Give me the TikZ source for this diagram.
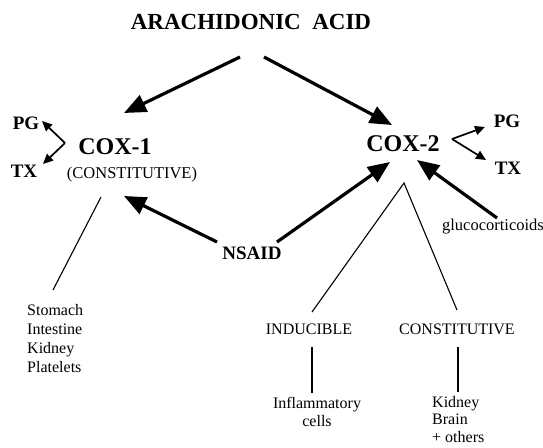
\documentclass[tikz,border=0pt]{standalone}
\usepackage{fontspec}
\setmainfont{Liberation Serif}
\usetikzlibrary{arrows.meta}
\begin{document}
\begin{tikzpicture}[x=1pt,y=-1pt,
  big/.style={line width=3.2pt,-{Triangle[length=22pt,width=18pt]}},
  small/.style={line width=1.7pt,-{Triangle[length=10pt,width=9pt]}},
  thin/.style={line width=1.1pt},
  bold/.style={font=\bfseries\fontsize{24}{26}\selectfont,inner sep=0pt},
  boldsm/.style={font=\bfseries\fontsize{19}{21}\selectfont,inner sep=0pt},
  txt/.style={font=\fontsize{16}{19}\selectfont,inner sep=0pt}]
\useasboundingbox (0,0) rectangle (543,447);
% nodes
\node[bold,font=\bfseries\fontsize{23}{26}\selectfont] (aa) at (251,22) {ARACHIDONIC\ \ ACID};
\node[bold] (cox1) at (115,147) {COX-1};
\node[txt,font=\fontsize{16.5}{19}\selectfont] (const1) at (132,175) {(CONSTITUTIVE)};
\node[boldsm] (pg1) at (26,123) {PG};
\node[boldsm] (tx1) at (24,171) {TX};
\node[bold] (cox2) at (403,144) {COX-2};
\node[boldsm] (pg2) at (507,121) {PG};
\node[boldsm] (tx2) at (508,168) {TX};
\node[bold,font=\bfseries\fontsize{19}{22}\selectfont] (nsaid) at (252,253) {NSAID};
\node[txt,font=\fontsize{16.5}{19}\selectfont] (gluco) at (493,227) {glucocorticoids};
\node[txt,align=left,anchor=north west] (organs1) at (27,304) {Stomach\\Intestine\\Kidney\\Platelets};
\node[txt] (induc) at (309,329) {INDUCIBLE};
\node[txt] (const2) at (457,329) {CONSTITUTIVE};
\node[txt,align=center,anchor=north,font=\fontsize{16}{18}\selectfont] (inflam) at (317,397) {Inflammatory\\cells};
\node[txt,align=left,anchor=north west,font=\fontsize{16}{17.5}\selectfont] (organs2) at (432,396) {Kidney\\Brain\\+ others};
% connector points
\coordinate (aaL) at (240,57);
\coordinate (aaR) at (264,57);
\coordinate (c1top) at (124,113);
\coordinate (c2top) at (392,125);
\coordinate (v1) at (65,143);
\coordinate (pg1t) at (42,121);
\coordinate (tx1t) at (43,164);
\coordinate (v2) at (452,139);
\coordinate (pg2t) at (485,127);
\coordinate (tx2t) at (486,160);
\coordinate (nsL) at (217,242);
\coordinate (nsR) at (277,242);
\coordinate (c1bot) at (124,196);
\coordinate (c2botL) at (390,162);
\coordinate (glS) at (497,218);
\coordinate (c2botR) at (417,160);
\coordinate (c1line) at (101,197);
\coordinate (orgTop) at (53,290);
\coordinate (apex) at (404,183);
\coordinate (inTop) at (312,312);
\coordinate (coTop) at (457,310);
\coordinate (inA) at (312,347);
\coordinate (inB) at (312,393);
\coordinate (coA) at (458,347);
\coordinate (coB) at (458,392);
% connectors
\draw[big] (aaL) -- (c1top);
\draw[big] (aaR) -- (c2top);
\draw[big] (nsL) -- (c1bot);
\draw[big] (nsR) -- (c2botL);
\draw[big] (glS) -- (c2botR);
\draw[small] (v1) -- (pg1t);
\draw[small] (v1) -- (tx1t);
\draw[small] (v2) -- (pg2t);
\draw[small] (v2) -- (tx2t);
\draw[thin] (c1line) -- (orgTop);
\draw[thin] (inTop) -- (apex) -- (coTop);
\draw[thin] (inA) -- (inB);
\draw[thin] (coA) -- (coB);
\end{tikzpicture}
\end{document}
